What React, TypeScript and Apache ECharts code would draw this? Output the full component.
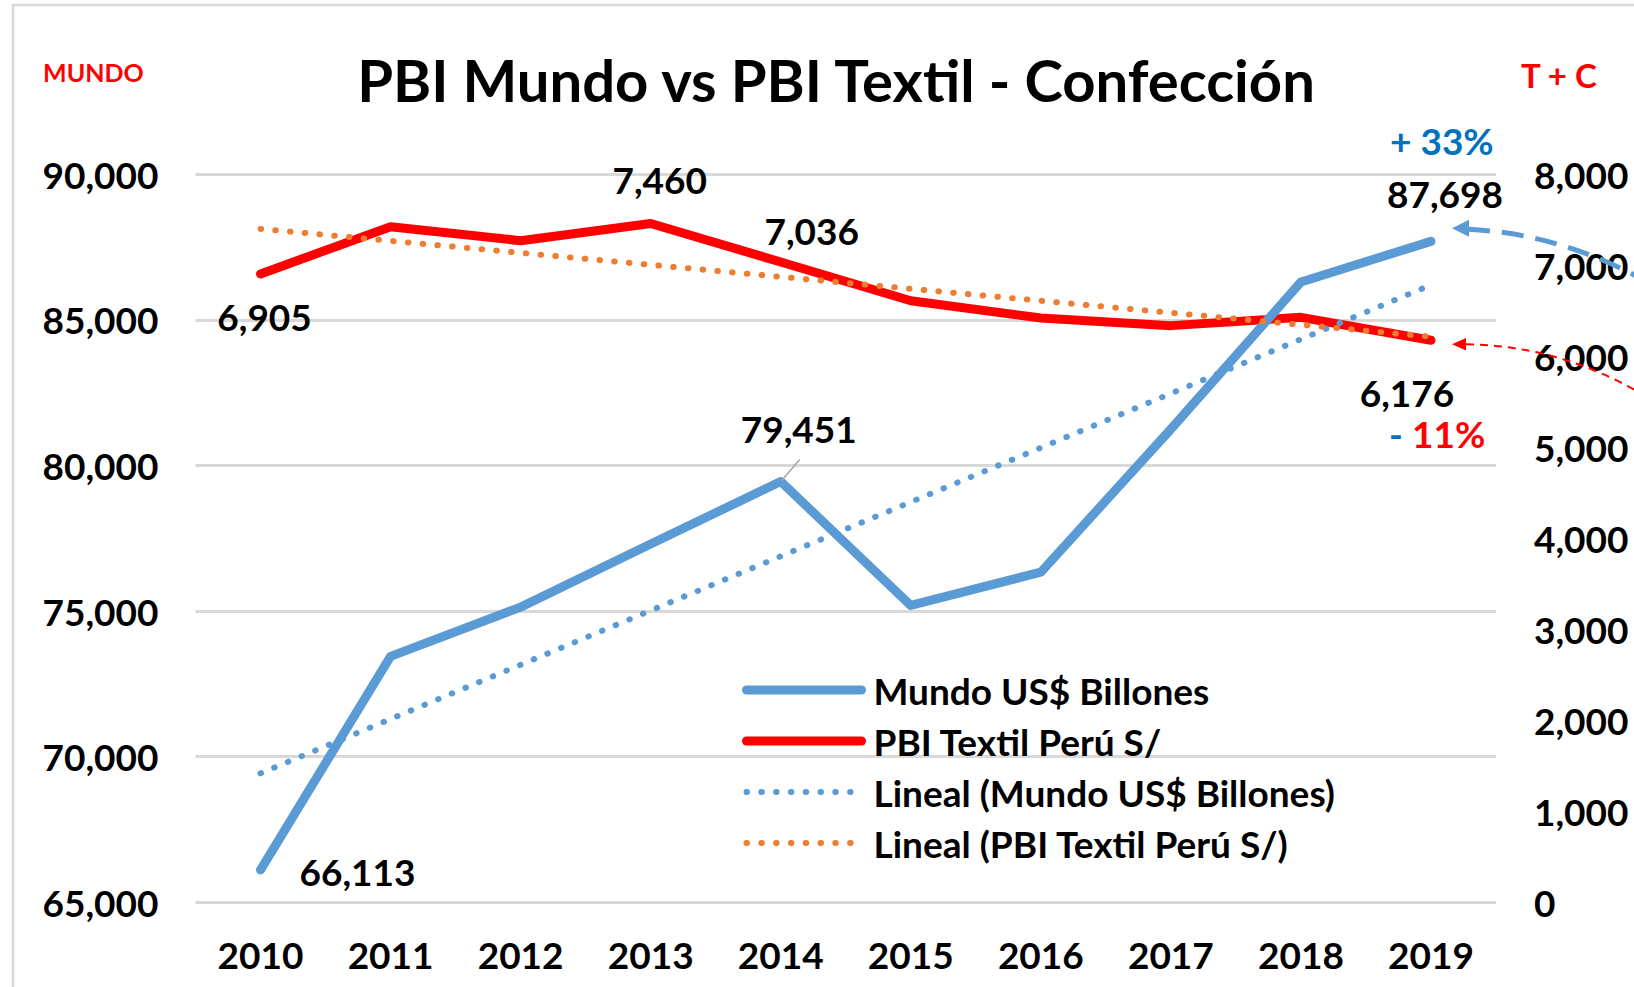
import React, { useEffect, useRef } from 'react';
import * as echarts from 'echarts';

const years = ['2010', '2011', '2012', '2013', '2014', '2015', '2016', '2017', '2018', '2019'];
const mundo = [66113, 73446, 75136, 77303, 79451, 75195, 76337, 81250, 86300, 87698];
const textil = [6905, 7424, 7270, 7460, 7036, 6611, 6421, 6337, 6428, 6176];
// linear trend lines, values read at first and last year
const mundoTrend = [69430, 86200];
const textilTrend = [7400, 6215];
const leftAxis = { min: 65000, max: 90000, interval: 5000 };
const rightAxis = { min: 0, max: 8000, interval: 1000 };
const names = [
  'Mundo US$ Billones',
  'PBI Textil Perú S/',
  'Lineal (Mundo US$ Billones)',
  'Lineal (PBI Textil Perú S/)',
];
const titleText = 'PBI Mundo vs PBI Textil - Confección';
const leftAxisName = 'MUNDO';
const rightAxisName = 'T + C';
const mundoLabelIdx = [0, 4, 9];
const textilLabelIdx = [0, 3, 4, 9];

const BLUE = '#5B9BD5';
const RED = '#FF0000';
const ORANGE = '#ED7D31';
const DARKBLUE = '#0070C0';
const FONT = 'Lato';

const fmt = (v: number) => v.toLocaleString('en-US');

// label offsets (style only)
const mundoOffsets: Record<number, number[]> = { 0: [97, 2], 4: [18, -53], 9: [14, -48] };
const textilOffsets: Record<number, number[]> = { 0: [4, 43], 3: [9, -44], 4: [31, -32], 9: [-24, 52] };

export default function App() {
  const ref = useRef<HTMLDivElement>(null);
  useEffect(() => {
    if (!ref.current) return;
    const chart = echarts.init(ref.current, null, { renderer: 'svg' });
    const labelStyle = { fontFamily: FONT, fontWeight: 'bold' as const, fontSize: 37, color: '#000' };
    const dataLabel = {
      show: true,
      position: 'inside',
      ...labelStyle,
      opacity: 1,
      lineHeight: 30,
      textBorderWidth: 0,
      textBorderColor: 'transparent',
      textShadowBlur: 0,
      formatter: (p: any) => fmt(p.value[1]),
    };
    const labelItemStyle = { color: 'rgba(0,0,0,0)', opacity: 1 };
    const option: any = {
      animation: false,
      backgroundColor: '#fff',
      grid: { left: 195.5, right: 138, top: 174.3, bottom: 84.7, containLabel: false },
      legend: {
        orient: 'vertical',
        left: 742,
        top: 670,
        padding: 0,
        itemWidth: 115,
        itemHeight: 12,
        itemGap: 11,
        itemStyle: { opacity: 0 },
        textStyle: { ...labelStyle, lineHeight: 40, padding: [0, 0, 0, 7] },
        data: [
          { name: names[0], lineStyle: { width: 9 }, itemStyle: { opacity: 0 } },
          { name: names[1], lineStyle: { width: 9 }, itemStyle: { opacity: 0 } },
          { name: names[2], lineStyle: { width: 6 }, itemStyle: { opacity: 0 } },
          { name: names[3], lineStyle: { width: 6 }, itemStyle: { opacity: 0 } },
        ],
      },
      xAxis: {
        type: 'category',
        data: years,
        boundaryGap: true,
        axisLine: { show: false },
        axisTick: { show: false },
        axisLabel: { ...labelStyle, margin: 34 },
      },
      yAxis: [
        {
          type: 'value',
          ...leftAxis,
          axisLine: { show: false },
          axisTick: { show: false },
          splitLine: { lineStyle: { color: '#D9D9D9', width: 3 } },
          axisLabel: { ...labelStyle, margin: 37, formatter: (v: number) => fmt(v) },
        },
        {
          type: 'value',
          ...rightAxis,
          position: 'right',
          axisLine: { show: false },
          axisTick: { show: false },
          splitLine: { show: false },
          axisLabel: { ...labelStyle, margin: 38, formatter: (v: number) => fmt(v) },
        },
      ],
      series: [
        {
          name: names[1],
          type: 'line',
          yAxisIndex: 1,
          data: textil,
          symbol: 'none',
          lineStyle: { color: RED, width: 9, cap: 'round', join: 'round' },
          itemStyle: { color: RED },
          z: 2,
        },
        {
          name: names[0],
          type: 'line',
          yAxisIndex: 0,
          data: mundo,
          symbol: 'none',
          lineStyle: { color: BLUE, width: 9, cap: 'round', join: 'round' },
          itemStyle: { color: BLUE },
          z: 3,
        },
        {
          name: names[2],
          type: 'line',
          yAxisIndex: 0,
          data: [[0, mundoTrend[0]], [years.length - 1, mundoTrend[1]]],
          symbol: 'none',
          lineStyle: { color: BLUE, width: 6, type: [0.5, 14.3], cap: 'round' },
          itemStyle: { color: BLUE },
          z: 4,
        },
        {
          name: names[3],
          type: 'line',
          yAxisIndex: 1,
          data: [[0, textilTrend[0]], [years.length - 1, textilTrend[1]]],
          symbol: 'none',
          lineStyle: { color: ORANGE, width: 6, type: [0.5, 14.3], cap: 'round' },
          itemStyle: { color: ORANGE },
          z: 4,
        },
        {
          name: 'mundoLabels',
          type: 'scatter',
          yAxisIndex: 0,
          symbolSize: 1,
          itemStyle: labelItemStyle,
          silent: true,
          z: 6,
          label: dataLabel,
          data: mundoLabelIdx.map((i) => ({
            value: [i, mundo[i]],
            label: { offset: mundoOffsets[i] },
          })),
        },
        {
          name: 'textilLabels',
          type: 'scatter',
          yAxisIndex: 1,
          symbolSize: 1,
          itemStyle: labelItemStyle,
          silent: true,
          z: 6,
          label: dataLabel,
          data: textilLabelIdx.map((i) => ({
            value: [i, textil[i]],
            label: { offset: textilOffsets[i] },
          })),
        },
      ],
    };
    chart.setOption(option);

    const last = years.length - 1;
    const p = chart.convertToPixel({ xAxisIndex: 0, yAxisIndex: 0 }, [last, mundo[last]]) as number[];
    const q = chart.convertToPixel({ xAxisIndex: 0, yAxisIndex: 1 }, [last, textil[last]]) as number[];
    const p4 = chart.convertToPixel({ xAxisIndex: 0, yAxisIndex: 0 }, [4, mundo[4]]) as number[];
    const mundoPct = Math.round((mundo[last] / mundo[0] - 1) * 100);
    const textilPct = Math.round((textil[last] / textil[0] - 1) * 100);

    const bt = [p[0] + 21, p[1] - 13];
    const rt = [q[0] + 21, q[1] + 4];

    chart.setOption({
      graphic: [
        {
          type: 'rect',
          shape: { x: 13, y: 5, width: 1800, height: 1200 },
          style: { fill: 'none', stroke: '#D9D9D9', lineWidth: 2.5 },
          silent: true,
        },
        {
          type: 'text',
          style: {
            text: titleText,
            x: 836,
            y: 79,
            font: `bold 58px ${FONT}`,
            fill: '#000',
            textAlign: 'center',
            textVerticalAlign: 'middle',
          },
        },
        {
          type: 'text',
          style: {
            text: leftAxisName,
            x: 43,
            y: 72,
            font: `bold 25px ${FONT}`,
            fill: RED,
            textAlign: 'left',
            textVerticalAlign: 'middle',
          },
        },
        {
          type: 'text',
          style: {
            text: rightAxisName,
            x: 1521,
            y: 75,
            font: `bold 33px ${FONT}`,
            fill: RED,
            textAlign: 'left',
            textVerticalAlign: 'middle',
          },
        },
        {
          type: 'text',
          style: {
            text: `+ ${mundoPct}%`,
            x: p[0] - 41,
            y: p[1] - 101,
            font: `bold 37px ${FONT}`,
            lineHeight: 30,
            fill: DARKBLUE,
            textAlign: 'left',
            textVerticalAlign: 'middle',
          },
        },
        {
          type: 'text',
          style: {
            text: '-',
            x: q[0] - 42,
            y: q[1] + 93,
            font: `bold 37px ${FONT}`,
            lineHeight: 30,
            fill: DARKBLUE,
            textAlign: 'left',
            textVerticalAlign: 'middle',
          },
        },
        {
          type: 'text',
          style: {
            text: `${Math.abs(textilPct)}%`,
            x: q[0] - 19,
            y: q[1] + 93,
            font: `bold 37px ${FONT}`,
            lineHeight: 30,
            fill: RED,
            textAlign: 'left',
            textVerticalAlign: 'middle',
          },
        },
        {
          type: 'line',
          shape: { x1: p4[0] + 1, y1: p4[1] - 1, x2: p4[0] + 19, y2: p4[1] - 22 },
          style: { stroke: '#A6A6A6', lineWidth: 1.5 },
          z: 10,
        },
        {
          type: 'bezierCurve',
          shape: { x1: bt[0] + 16, y1: bt[1] + 1, cpx1: p[0] + 129, cpy1: p[1] - 8, x2: p[0] + 215, y2: p[1] + 40 },
          style: { stroke: BLUE, lineWidth: 5, fill: 'none', lineDash: [22, 12] },
          z: 10,
        },
        {
          type: 'polygon',
          shape: { points: [bt, [bt[0] + 17, bt[1] - 8.5], [bt[0] + 17, bt[1] + 8.5]] },
          style: { fill: BLUE },
          z: 10,
        },
        {
          type: 'bezierCurve',
          shape: { x1: rt[0] + 14, y1: rt[1], cpx1: q[0] + 129, cpy1: q[1] + 5, x2: q[0] + 215, y2: q[1] + 56 },
          style: { stroke: RED, lineWidth: 2, fill: 'none', lineDash: [8, 6] },
          z: 10,
        },
        {
          type: 'polygon',
          shape: { points: [rt, [rt[0] + 14, rt[1] - 6.3], [rt[0] + 14, rt[1] + 6.3]] },
          style: { fill: RED },
          z: 10,
        },
      ],
    });

    return () => chart.dispose();
  }, []);
  return <div ref={ref} style={{ position: 'absolute', left: 0, top: 0, width: 1634, height: 987 }} />;
}
